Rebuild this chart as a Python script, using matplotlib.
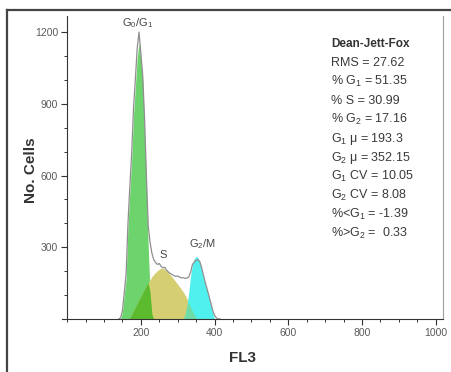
import numpy as np
import matplotlib
matplotlib.use('Agg')
from matplotlib import pyplot as plt
from matplotlib.lines import Line2D

plt.rcParams['font.family'] = ['Liberation Sans', 'DejaVu Sans']
plt.rcParams['mathtext.default'] = 'regular'

# Data (FL3 channel grid, counts)
fl3 = np.arange(140, 420, 5)
g1 = [0, 0, 30, 100, 170, 385, 530, 660, 850, 970,
      1090, 1155, 1080, 1000, 790, 560, 300, 110, 20] + [0] * 37
s_phase = [0] * 6 + [5, 20, 35, 50, 65, 80, 95, 110, 125, 140,
                     152, 165, 177, 187, 195, 202, 208, 212, 212, 208,
                     201, 193, 184, 175, 165, 155, 145, 135, 124, 113,
                     100, 85, 68, 50, 33, 17, 5] + [0] * 13
g2 = [0] * 35 + [0, 15, 55, 110, 180, 228, 252, 262, 256, 236,
                 205, 172, 145, 118, 90, 60, 25, 0] + [0] * 3
total = [0, 5, 35, 110, 190, 400, 550, 690, 880, 1000,
         1130, 1200, 1110, 1020, 840, 600, 390, 320, 275, 248,
         236, 228, 232, 220, 214, 216, 204, 196, 190, 186,
         181, 178, 180, 175, 172, 173, 170, 171, 176, 195,
         228, 238, 246, 248, 240, 215, 182, 152, 124, 96,
         66, 36, 15, 5, 0, 0]

stats = ['RMS = 27.62', '% G$_1$ = 51.35', '% S = 30.99', '% G$_2$ = 17.16',
         'G$_1$ μ = 193.3', 'G$_2$ μ = 352.15', 'G$_1$ CV = 10.05',
         'G$_2$ CV = 8.08', '%<G$_1$ = -1.39', '%>G$_2$ =  0.33']

g1 = np.array(g1)
s_phase = np.array(s_phase)
g2 = np.array(g2)

W, H = 451, 372
fig = plt.figure(figsize=(W / 100, H / 100), dpi=100)
ax = fig.add_axes([62 / W, 1 - 319 / H, 381 / W, 303 / H])

# Fills
ax.fill_between(fl3, 0, g1, color='#6dd36d', lw=0)
ax.fill_between(fl3, 0, s_phase, color='#d5cf72', lw=0)
ax.fill_between(fl3, 0, g2, color='#4ff0ee', lw=0)
ax.fill_between(fl3, 0, np.minimum(g1, s_phase), color='#5cba2e', lw=0)
ax.fill_between(fl3, 0, np.minimum(s_phase, g2), color='#6fdca8', lw=0)
ax.plot(fl3, total, color='#8f8f8f', lw=0.9)

ax.set_xlim(-14, 1020)
ax.set_ylim(0, 1267)

# Spines
ax.spines['left'].set_position(('data', 0))
ax.spines['top'].set_visible(False)
ax.spines['left'].set_color('#333333')
ax.spines['bottom'].set_color('#333333')
ax.spines['right'].set_color('#a0a0a0')

ax.set_xticks([200, 400, 600, 800, 1000])
ax.set_xticks(np.arange(0, 1001, 50), minor=True)
ax.set_yticks([300, 600, 900, 1200])
ax.set_yticks(np.arange(100, 1201, 100), minor=True)
ax.tick_params(which='major', length=4.5, width=0.8, color='#333333',
               labelsize=7.5, labelcolor='#5a5a5a', pad=2)
ax.tick_params(which='minor', length=2.2, width=0.7, color='#333333')

# Peak labels
ax.text(192, 1210, 'G$_0$/G$_1$', fontsize=8, color='#444444', ha='center', va='bottom')
ax.text(260, 268, 'S', fontsize=8, color='#444444', ha='center', va='center')
ax.text(368, 314, 'G$_2$/M', fontsize=8, color='#444444', ha='center', va='center')

# Axis labels
fig.text(31 / W, 1 - 170 / H, 'No. Cells', rotation=90, fontsize=11,
         fontweight='bold', color='#333333', ha='center', va='center')
fig.text(243 / W, 1 - 358 / H, 'FL3', fontsize=11, fontweight='bold',
         color='#333333', ha='center', va='center')

# Stats block
fig.text(331 / W, 1 - 47 / H, 'Dean-Jett-Fox', fontsize=8.5, fontweight='bold',
         color='#333333', ha='left', va='baseline')
for i, line in enumerate(stats):
    fig.text(331 / W, 1 - (66 + 19 * i) / H, line, fontsize=9,
             color='#3a3a3a', ha='left', va='baseline')

# Outer frame
fig.add_artist(Line2D([7.5 / W, 1], [1 - 10 / H, 1 - 10 / H], color='#444444', lw=1.6))
fig.add_artist(Line2D([7.5 / W, 7.5 / W], [0, 1 - 10 / H], color='#444444', lw=1.6))

fig.savefig('out.png', dpi=100)
